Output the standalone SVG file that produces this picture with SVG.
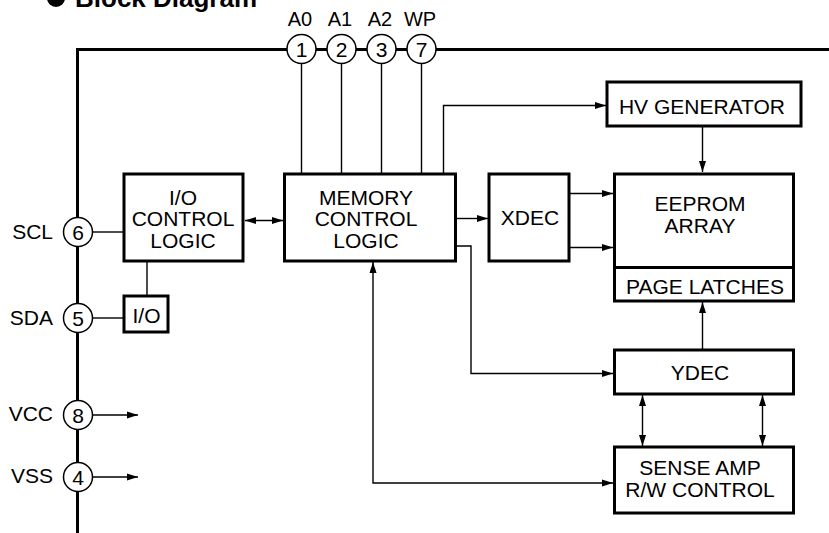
<svg xmlns="http://www.w3.org/2000/svg" width="829" height="533" viewBox="0 0 829 533">
<style>
.box{fill:#fff;stroke:#000;stroke-width:3}
.bus{fill:none;stroke:#000;stroke-width:3}
.pin{fill:#fff;stroke:#000;stroke-width:1.5}
.con{fill:none;stroke:#000;stroke-width:1.4}
text{font-family:"Liberation Sans",Arial,sans-serif;font-size:21px;fill:#000}
.c{text-anchor:middle}
.e{text-anchor:end}
.pl{font-size:20px}
.title{font-size:26px;font-weight:bold}
</style>
<defs>
<marker id="ah" markerUnits="userSpaceOnUse" markerWidth="12" markerHeight="8" refX="11" refY="3.5" orient="auto-start-reverse" viewBox="0 0 12 7">
<path d="M0,0 L11,3.5 L0,7 z" fill="#000"/>
</marker>
</defs>
<rect width="829" height="533" fill="#fff"/>
<g id="title">
<circle cx="56" cy="-2" r="9" fill="#000"/>
<text class="title" x="75" y="7">Block Diagram</text>
</g>
<g id="bus">
<path class="bus" d="M829,49.5 H77.5 V533"/>
</g>
<g id="connectors">
<path class="con" d="M301.5,63 V173"/>
<path class="con" d="M341.5,63 V173"/>
<path class="con" d="M381.5,63 V173"/>
<path class="con" d="M421.5,63 V173"/>
<path class="con" d="M443.5,173 V105.5 H606" marker-end="url(#ah)"/>
<path class="con" d="M702.5,126 V172" marker-end="url(#ah)"/>
<path class="con" d="M456,218.5 H488" marker-end="url(#ah)"/>
<path class="con" d="M569,193.5 H613" marker-end="url(#ah)"/>
<path class="con" d="M569,247.5 H613" marker-end="url(#ah)"/>
<path class="con" d="M456,246 H471 V373.5 H613" marker-end="url(#ah)"/>
<path class="con" d="M702.5,349 V302" marker-end="url(#ah)"/>
<path class="con" d="M642.5,395 V446" marker-start="url(#ah)" marker-end="url(#ah)"/>
<path class="con" d="M762.5,395 V446" marker-start="url(#ah)" marker-end="url(#ah)"/>
<path class="con" d="M373,262 V483 H613" marker-start="url(#ah)" marker-end="url(#ah)"/>
<path class="con" d="M245,220.5 H283" marker-start="url(#ah)" marker-end="url(#ah)"/>
<path class="con" d="M92,232 H123"/>
<path class="con" d="M92,318 H123"/>
<path class="con" d="M147,262 V295"/>
<path class="con" d="M92,415 H138" marker-end="url(#ah)"/>
<path class="con" d="M92,477 H138" marker-end="url(#ah)"/>
</g>
<g id="pin1"><circle class="pin" cx="301.5" cy="49" r="14.5"/><text class="c" x="301.5" y="56.5">1</text><text class="c pl" x="300" y="26">A0</text></g>
<g id="pin2"><circle class="pin" cx="341.5" cy="49" r="14.5"/><text class="c" x="341.5" y="56.5">2</text><text class="c pl" x="340" y="26">A1</text></g>
<g id="pin3"><circle class="pin" cx="381.5" cy="49" r="14.5"/><text class="c" x="381.5" y="56.5">3</text><text class="c pl" x="380" y="26">A2</text></g>
<g id="pin7"><circle class="pin" cx="421.5" cy="49" r="14.5"/><text class="c" x="421.5" y="56.5">7</text><text class="c pl" x="420" y="26">WP</text></g>
<g id="pin6"><circle class="pin" cx="78" cy="232" r="14.5"/><text class="c" x="78" y="240">6</text><text class="e" x="53" y="239">SCL</text></g>
<g id="pin5"><circle class="pin" cx="78" cy="318" r="14.5"/><text class="c" x="78" y="326">5</text><text class="e" x="53" y="325">SDA</text></g>
<g id="pin8"><circle class="pin" cx="78" cy="415" r="14.5"/><text class="c" x="78" y="423">8</text><text class="e" x="53" y="421">VCC</text></g>
<g id="pin4"><circle class="pin" cx="78" cy="477" r="14.5"/><text class="c" x="78" y="485">4</text><text class="e" x="53" y="483">VSS</text></g>
<g id="io-control">
<rect class="box" x="124" y="174" width="119" height="87"/>
<text class="c" x="183" y="205">I/O</text>
<text class="c" x="183" y="226">CONTROL</text>
<text class="c" x="183" y="247.5">LOGIC</text>
</g>
<g id="io">
<rect class="box" x="124" y="296" width="44" height="36"/>
<text class="c" x="146.5" y="322.5">I/O</text>
</g>
<g id="memory-control">
<rect class="box" x="284.5" y="174" width="171" height="87"/>
<text class="c" x="366" y="205">MEMORY</text>
<text class="c" x="366" y="226">CONTROL</text>
<text class="c" x="366" y="247.5">LOGIC</text>
</g>
<g id="xdec">
<rect class="box" x="489" y="174" width="80" height="87"/>
<text class="c" x="530" y="225">XDEC</text>
</g>
<g id="hv-generator">
<rect class="box" x="607" y="82" width="194" height="44"/>
<text class="c" x="702" y="114">HV GENERATOR</text>
</g>
<g id="eeprom-array">
<rect class="box" x="614.5" y="174" width="179" height="127"/>
<line x1="614.5" y1="267.5" x2="793.5" y2="267.5" stroke="#000" stroke-width="3"/>
<text class="c" x="700" y="211">EEPROM</text>
<text class="c" x="700" y="232.5">ARRAY</text>
<text class="c" x="705" y="293.5">PAGE LATCHES</text>
</g>
<g id="ydec">
<rect class="box" x="614.5" y="350" width="179" height="44"/>
<text class="c" x="700" y="380">YDEC</text>
</g>
<g id="sense-amp">
<rect class="box" x="614.5" y="447" width="179" height="66"/>
<text class="c" x="700" y="475">SENSE AMP</text>
<text class="c" x="700" y="496.5">R/W CONTROL</text>
</g>
</svg>
